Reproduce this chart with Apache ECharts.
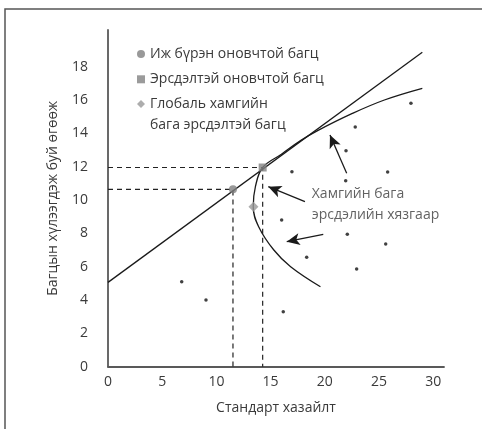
<!DOCTYPE html>
<html><head><meta charset="utf-8">
<script src="https://cdn.jsdelivr.net/npm/echarts@6/dist/echarts.min.js"></script>
<style>html,body{margin:0;padding:0;background:#fff}#c{width:482px;height:429px}</style>
</head><body><div id="c"></div>
<script>
// ---- data ----
const xTicks = [0, 5, 10, 15, 20, 25, 30];
const yTicks = [0, 2, 4, 6, 8, 10, 12, 14, 16, 18];
const xName = 'Стандарт хазайлт';
const yName = 'Багцын хүлээгдэж буй өгөөж';
const legendNames = ['Иж бүрэн оновчтой багц', 'Эрсдэлтэй оновчтой багц', 'Глобаль хамгийн\nбага эрсдэлтэй багц'];
// capital market (tangent) line
const tangentLine = [[0, 5.06], [29.0, 18.86]];
// minimum-variance frontier
const frontier = [[19.6, 4.8], [16.85, 6.0], [15.3, 7.0], [13.9, 8.4], [13.4, 9.6], [13.6, 10.8], [14.27, 11.95],
  [16.0, 12.75], [17.8, 13.58], [19.3, 14.15], [22.4, 15.15], [25.5, 16.0], [29.0, 16.7]];
// individual assets
const assets = [[6.8, 5.1], [9.04, 4.0], [16.02, 8.8], [16.17, 3.3], [16.97, 11.7], [18.33, 6.56], [21.96, 12.96],
  [21.93, 11.16], [22.81, 14.38], [22.08, 7.94], [22.94, 5.86], [25.62, 7.36], [25.8, 11.68], [27.95, 15.8]];
const fullOptimal = [11.53, 10.64];
const riskyOptimal = [14.27, 11.95];
const globalMinVar = [13.42, 9.6];
// annotation
const noteText = 'Хамгийн бага\nэрсдэлийн хязгаар';
const notePos = [18.8, 9.75];
const arrows = [
  [[22.02, 11.6], [20.48, 13.9]],
  [[18.17, 9.9], [14.79, 10.8]],
  [[19.86, 7.94], [16.49, 7.5]]
];

const TXT = '#3a3a3a';
const FONT = 'Open Sans';
const chart = echarts.init(document.getElementById('c'), null, {renderer: 'canvas'});

function legendItem(i, top) {
  const ts = {color: TXT, fontSize: 14, fontFamily: FONT, lineHeight: 21};
  return {
    data: [{name: legendNames[i]}],
    orient: 'vertical', left: 137, top: top, padding: 0,
    itemWidth: 8, itemHeight: 8, itemGap: 6, selectedMode: false,
    textStyle: ts,
    // multi-line entry: a leading blank line puts the first text line level with the icon
    formatter: name => (name.indexOf('\n') >= 0 ? '\n' + name : name)
  };
}

chart.setOption({
  animation: false,
  backgroundColor: '#fff',
  textStyle: {fontFamily: FONT},
  graphic: [{type: 'rect', shape: {x: 5, y: 9, width: 600, height: 600},
    style: {fill: 'none', stroke: '#555', lineWidth: 1.5}, silent: true}],
  legend: [legendItem(0, 43.5), legendItem(1, 68.8), legendItem(2, 72.5)],
  grid: {left: 108, right: 38, top: 30, bottom: 62.3, containLabel: false},
  xAxis: {
    type: 'value', min: 0, max: 31, interval: 5,
    name: xName, nameLocation: 'middle', nameGap: 34,
    nameTextStyle: {color: TXT, fontSize: 14, fontFamily: FONT},
    axisLine: {lineStyle: {color: '#595959', width: 1.8}},
    axisTick: {show: false}, splitLine: {show: false},
    axisLabel: {color: TXT, fontSize: 14, fontFamily: FONT, margin: 8,
      formatter: v => xTicks.indexOf(v) >= 0 ? String(v) : ''}
  },
  yAxis: {
    type: 'value', min: 0, max: 20.2, interval: 2,
    name: yName, nameLocation: 'middle', nameGap: 48,
    nameTextStyle: {color: TXT, fontSize: 14, fontFamily: FONT},
    axisLine: {show: true, lineStyle: {color: '#595959', width: 1.8}},
    axisTick: {show: false}, splitLine: {show: false},
    axisLabel: {color: TXT, fontSize: 14, fontFamily: FONT, margin: 20,
      formatter: v => yTicks.indexOf(v) >= 0 ? String(v) : ''}
  },
  series: [
    {type: 'line', data: [[0, fullOptimal[1]], fullOptimal, [fullOptimal[0], 0]], symbol: 'none',
      lineStyle: {color: '#222', width: 1.2, type: [5, 4]}, z: 1, silent: true},
    {type: 'line', data: [[0, riskyOptimal[1]], riskyOptimal, [riskyOptimal[0], 0]], symbol: 'none',
      lineStyle: {color: '#222', width: 1.2, type: [5, 4]}, z: 1, silent: true},
    {type: 'line', data: tangentLine, symbol: 'none', lineStyle: {color: '#1a1a1a', width: 1.3}, z: 2},
    {type: 'line', data: frontier, symbol: 'none', smooth: 0.4, lineStyle: {color: '#1a1a1a', width: 1.3}, z: 2,
      markLine: {silent: true, symbol: ['none', 'arrow'], symbolSize: [9, 13], label: {show: false},
        lineStyle: {color: '#1a1a1a', width: 1.3, type: 'solid'},
        data: arrows.map(a => [{coord: a[0]}, {coord: a[1]}])}},
    {type: 'scatter', data: assets, symbol: 'circle', symbolSize: 3.5, itemStyle: {color: '#111'}, z: 3},
    {type: 'scatter', data: [notePos], symbolSize: 0, z: 3, silent: true,
      label: {show: true, position: 'inside', align: 'left', verticalAlign: 'middle', formatter: noteText,
        color: TXT, fontSize: 14, fontFamily: FONT, lineHeight: 21}},
    {name: legendNames[0], type: 'scatter', data: [fullOptimal], symbol: 'circle', symbolSize: 8,
      itemStyle: {color: '#7f7f7f'}, z: 5},
    {name: legendNames[1], type: 'scatter', data: [riskyOptimal], symbol: 'rect', symbolSize: 8,
      itemStyle: {color: '#828282'}, z: 5},
    {name: legendNames[2], type: 'scatter', data: [globalMinVar], symbol: 'diamond', symbolSize: 10,
      itemStyle: {color: '#999'}, z: 5}
  ]
});
</script></body></html>
